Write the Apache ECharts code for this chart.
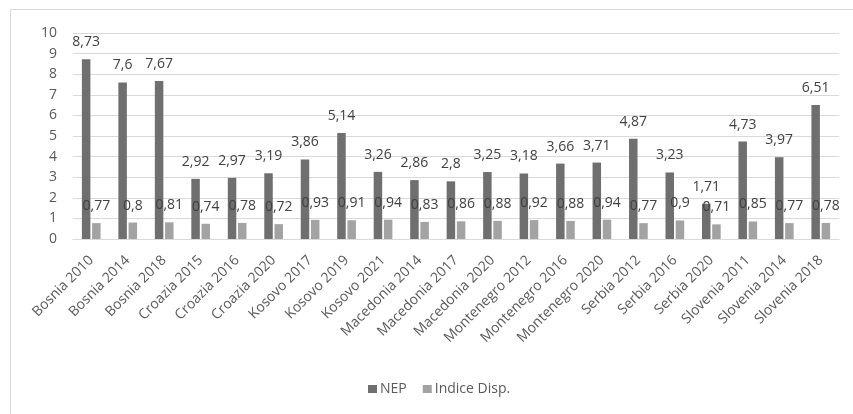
<!DOCTYPE html>
<html>
<head>
<meta charset="utf-8">
<script src="https://cdn.jsdelivr.net/npm/echarts@6/dist/echarts.min.js"></script>
<style>
  html, body { margin: 0; padding: 0; background: #fff; }
  #chart { width: 853px; height: 414px; }
</style>
</head>
<body>
<div id="chart"></div>
<script>
// Country-year categories
const categories = [
  'Bosnia 2010', 'Bosnia 2014', 'Bosnia 2018',
  'Croazia 2015', 'Croazia 2016', 'Croazia 2020',
  'Kosovo 2017', 'Kosovo 2019', 'Kosovo 2021',
  'Macedonia 2014', 'Macedonia 2017', 'Macedonia 2020',
  'Montenegro 2012', 'Montenegro 2016', 'Montenegro 2020',
  'Serbia 2012', 'Serbia 2016', 'Serbia 2020',
  'Slovenia 2011', 'Slovenia 2014', 'Slovenia 2018'
];

// NEP values
const nepValues = [
  8.73, 7.6, 7.67,
  2.92, 2.97, 3.19,
  3.86, 5.14, 3.26,
  2.86, 2.8, 3.25,
  3.18, 3.66, 3.71,
  4.87, 3.23, 1.71,
  4.73, 3.97, 6.51
];

// Indice Disp. values
const dispValues = [
  0.77, 0.8, 0.81,
  0.74, 0.78, 0.72,
  0.93, 0.91, 0.94,
  0.83, 0.86, 0.88,
  0.92, 0.88, 0.94,
  0.77, 0.9, 0.71,
  0.85, 0.77, 0.78
];

const seriesNames = ['NEP', 'Indice Disp.'];
const yTicks = { min: 0, max: 10, interval: 1 };

const FONT = '"Open Sans", "Noto Sans", sans-serif';
const commaDecimal = (v) => String(v).replace('.', ',');

const chart = echarts.init(document.getElementById('chart'), null, { renderer: 'canvas' });

const labelStyle = {
  show: true,
  position: 'top',
  distance: 10,
  color: '#404040',
  fontFamily: FONT,
  fontSize: 14,
  formatter: (p) => commaDecimal(p.value)
};

chart.setOption({
  animation: false,
  backgroundColor: '#ffffff',
  textStyle: { fontFamily: FONT },
  graphic: [{
    type: 'rect',
    silent: true,
    shape: { x: 10.5, y: 9.5, width: 900, height: 500 },
    style: { fill: 'none', stroke: '#d9d9d9', lineWidth: 1 }
  }],
  grid: { left: 73, right: 14, top: 33, bottom: 175, containLabel: false },
  legend: {
    data: seriesNames,
    left: 363,
    top: 377,
    itemWidth: 9,
    itemHeight: 8,
    itemGap: 16,
    icon: 'rect',
    textStyle: { color: '#595959', fontSize: 14, fontFamily: FONT, padding: [0, 0, 0, -2] }
  },
  xAxis: {
    type: 'category',
    data: categories,
    axisLine: { show: true, lineStyle: { color: '#d9d9d9', width: 1 } },
    axisTick: { show: false },
    axisLabel: {
      interval: 0,
      rotate: 45,
      margin: 19,
      color: '#595959',
      fontSize: 14,
      fontFamily: FONT
    }
  },
  yAxis: {
    type: 'value',
    min: yTicks.min,
    max: yTicks.max,
    interval: yTicks.interval,
    axisLine: { show: false },
    axisTick: { show: false },
    splitLine: { lineStyle: { color: '#d9d9d9', width: 1 } },
    axisLabel: { color: '#595959', fontSize: 14, fontFamily: FONT, margin: 16 }
  },
  series: [
    {
      name: seriesNames[0],
      type: 'bar',
      data: nepValues,
      barWidth: 8.5,
      barGap: '20%',
      itemStyle: { color: '#6f6f6f' },
      label: labelStyle
    },
    {
      name: seriesNames[1],
      type: 'bar',
      data: dispValues,
      barWidth: 8.5,
      itemStyle: { color: '#a3a3a3' },
      label: labelStyle
    }
  ]
});
</script>
</body>
</html>
